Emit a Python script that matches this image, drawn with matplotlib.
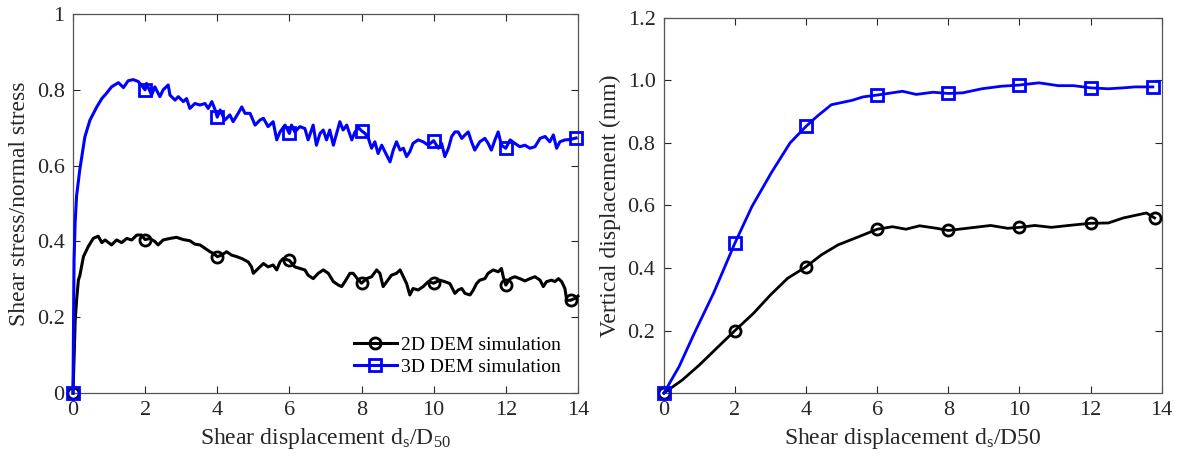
import matplotlib
matplotlib.use("Agg")
import matplotlib.pyplot as plt
import numpy as np

plt.rcParams['font.family'] = ['Liberation Serif', 'DejaVu Serif']
plt.rcParams['mathtext.fontset'] = 'custom'
plt.rcParams['mathtext.rm'] = 'Liberation Serif'
plt.rcParams['mathtext.it'] = 'Liberation Serif:italic'

# ---- left panel: shear stress / normal stress ----
bx2 = [0, 0.04, 0.06, 0.10, 0.15, 0.19, 0.29, 0.42, 0.56, 0.70, 0.80, 0.89, 1.07, 1.21, 1.35, 1.49,
       1.63, 1.77, 1.90, 2.0, 2.13, 2.27, 2.36, 2.50, 2.69, 2.87, 3.06, 3.24, 3.38, 3.52, 3.66, 3.80,
       3.90, 4.0, 4.12, 4.26, 4.40, 4.54, 4.68, 4.86, 4.95, 5.0, 5.14, 5.28, 5.41, 5.55, 5.65, 5.74,
       5.83, 6.0, 6.15, 6.29, 6.43, 6.52, 6.66, 6.80, 6.94, 7.08, 7.22, 7.36, 7.45, 7.54, 7.68, 7.77,
       7.90, 8.0, 8.14, 8.28, 8.42, 8.51, 8.60, 8.70, 8.83, 8.97, 9.07, 9.16, 9.25, 9.34, 9.43, 9.57,
       9.71, 9.85, 10.0, 10.17, 10.31, 10.45, 10.59, 10.68, 10.78, 10.87, 11.01, 11.10, 11.19, 11.28,
       11.42, 11.51, 11.65, 11.79, 11.88, 11.93, 12.0, 12.12, 12.25, 12.39, 12.53, 12.67, 12.81, 12.95,
       13.04, 13.13, 13.27, 13.36, 13.46, 13.55, 13.64, 13.69, 13.80, 13.92, 14.0]
by2 = [0, 0.12, 0.19, 0.245, 0.298, 0.31, 0.36, 0.386, 0.408, 0.414, 0.397, 0.404, 0.391, 0.404, 0.397, 0.408,
       0.404, 0.417, 0.417, 0.405, 0.408, 0.40, 0.391, 0.404, 0.408, 0.411, 0.405, 0.402, 0.393, 0.391, 0.382, 0.373,
       0.368, 0.36, 0.364, 0.373, 0.364, 0.36, 0.355, 0.346, 0.333, 0.316, 0.329, 0.342, 0.333, 0.338, 0.325, 0.346,
       0.355, 0.35, 0.333, 0.329, 0.325, 0.311, 0.302, 0.316, 0.325, 0.316, 0.294, 0.285, 0.281, 0.294, 0.316, 0.316,
       0.30, 0.29, 0.302, 0.307, 0.325, 0.316, 0.281, 0.294, 0.311, 0.316, 0.325, 0.307, 0.289, 0.259, 0.276, 0.272,
       0.281, 0.294, 0.29, 0.298, 0.294, 0.289, 0.263, 0.272, 0.276, 0.263, 0.259, 0.272, 0.289, 0.298,
       0.302, 0.316, 0.325, 0.320, 0.329, 0.307, 0.285, 0.302, 0.307, 0.302, 0.296, 0.302, 0.307, 0.298,
       0.281, 0.294, 0.298, 0.294, 0.302, 0.294, 0.276, 0.245, 0.245, 0.250, 0.256]
mk2 = [0, 2, 4, 6, 8, 10, 12, 13.8]

bx3 = [0, 0.03, 0.06, 0.10, 0.19, 0.33, 0.47, 0.66, 0.80, 0.93, 1.07, 1.26, 1.40, 1.53, 1.67, 1.81,
       1.90, 2.0, 2.04, 2.18, 2.27, 2.41, 2.50, 2.64, 2.69, 2.83, 2.92, 3.06, 3.15, 3.24, 3.38, 3.52,
       3.66, 3.75, 3.85, 3.95, 4.0, 4.08, 4.21, 4.35, 4.44, 4.58, 4.68, 4.77, 4.91, 5.05, 5.18, 5.28,
       5.41, 5.55, 5.65, 5.74, 5.88, 6.0, 6.06, 6.15, 6.29, 6.43, 6.52, 6.66, 6.75, 6.85, 6.94, 7.03,
       7.12, 7.22, 7.31, 7.40, 7.49, 7.59, 7.73, 7.82, 7.92, 8.0, 8.10, 8.19, 8.28, 8.37, 8.46, 8.56,
       8.65, 8.79, 8.88, 8.97, 9.07, 9.16, 9.25, 9.34, 9.43, 9.57, 9.71, 9.85, 10.0, 10.13, 10.22, 10.31,
       10.41, 10.50, 10.59, 10.68, 10.78, 10.87, 10.96, 11.05, 11.14, 11.28, 11.42, 11.51, 11.60, 11.70,
       11.79, 11.88, 12.0, 12.12, 12.25, 12.39, 12.53, 12.67, 12.81, 12.95, 13.09, 13.22, 13.32, 13.41,
       13.50, 13.64, 13.78, 13.95]
by3 = [0, 0.35, 0.45, 0.52, 0.59, 0.676, 0.72, 0.755, 0.777, 0.791, 0.808, 0.819, 0.806, 0.824, 0.827, 0.822,
       0.812, 0.80, 0.817, 0.786, 0.808, 0.782, 0.80, 0.813, 0.786, 0.773, 0.782, 0.769, 0.777, 0.751, 0.764, 0.760,
       0.764, 0.751, 0.769, 0.745, 0.728, 0.747, 0.720, 0.734, 0.716, 0.738, 0.755, 0.738, 0.738, 0.707, 0.720, 0.725,
       0.703, 0.716, 0.668, 0.689, 0.707, 0.685, 0.707, 0.689, 0.703, 0.698, 0.668, 0.707, 0.654, 0.685, 0.694, 0.668,
       0.694, 0.654, 0.685, 0.716, 0.694, 0.707, 0.668, 0.689, 0.700, 0.692, 0.685, 0.672, 0.646, 0.663, 0.632, 0.654,
       0.637, 0.610, 0.641, 0.663, 0.641, 0.646, 0.624, 0.637, 0.659, 0.668, 0.663, 0.654, 0.666, 0.646, 0.659, 0.624,
       0.646, 0.677, 0.689, 0.689, 0.672, 0.681, 0.689, 0.663, 0.641, 0.663, 0.672, 0.659, 0.641, 0.668,
       0.689, 0.654, 0.646, 0.668, 0.659, 0.650, 0.654, 0.646, 0.650, 0.672, 0.677, 0.663, 0.681, 0.646,
       0.663, 0.668, 0.669, 0.673]
mk3 = [0, 2, 4, 6, 8, 10, 12, 13.95]

# ---- right panel: vertical displacement (mm) ----
rx2 = [0, 0.52, 1.0, 1.48, 2.0, 2.52, 3.0, 3.48, 4.0, 4.43, 4.9, 5.48, 6.0, 6.43, 6.81, 7.19, 7.67, 8.0,
       8.52, 9.19, 9.67, 10.0, 10.43, 10.9, 11.38, 12.0, 12.5, 12.92, 13.57, 13.8]
ry2 = [0, 0.042, 0.09, 0.143, 0.2, 0.255, 0.314, 0.367, 0.404, 0.442, 0.474, 0.50, 0.524, 0.532, 0.524, 0.535, 0.527, 0.52,
       0.527, 0.536, 0.527, 0.53, 0.536, 0.53, 0.536, 0.543, 0.544, 0.56, 0.576, 0.56]
rmk2 = [0, 2, 4, 6, 8, 10, 12, 13.8]

rx3 = [0, 0.43, 0.86, 1.40, 2.0, 2.48, 3.02, 3.55, 4.0, 4.31, 4.71, 5.29, 5.60, 6.0, 6.71, 7.1, 7.57, 8.0,
       8.4, 8.94, 9.48, 10.0, 10.55, 11.09, 11.52, 12.0, 12.5, 12.92, 13.25, 13.75]
ry3 = [0, 0.085, 0.192, 0.32, 0.48, 0.597, 0.704, 0.80, 0.853, 0.885, 0.922, 0.936, 0.947, 0.953, 0.965, 0.955, 0.962, 0.958,
       0.96, 0.973, 0.981, 0.985, 0.992, 0.983, 0.983, 0.976, 0.973, 0.976, 0.979, 0.979]
rmk3 = [0, 2, 4, 6, 8, 10, 12, 13.75]

c_ax = '#262626'


def idx(x, marks):
    x = np.asarray(x)
    return [int(np.argmin(np.abs(x - m))) for m in marks]


def style(ax):
    ax.tick_params(direction='in', length=5, width=0.8, top=True, right=True,
                   labelsize=16, colors=c_ax, pad=6)
    for s in ax.spines.values():
        s.set_color('#555555')
        s.set_linewidth(0.9)


fig = plt.figure(figsize=(11.77, 4.68), dpi=100)
ax1 = fig.add_axes([0.062, 0.160, 0.429, 0.810])
ax2 = fig.add_axes([0.564, 0.160, 0.423, 0.802])

ax1.plot(bx2, by2, color='k', lw=2.2, marker='o', ms=8, mfc='none', mew=2,
         markevery=idx(bx2, mk2), label='2D DEM simulation', clip_on=False, zorder=3)
ax1.plot(bx3, by3, color='#0000ff', lw=2.2, marker='s', ms=8, mfc='none', mew=2,
         markevery=idx(bx3, mk3), label='3D DEM simulation', clip_on=False, zorder=3)
ax1.set_xlim(0, 14)
ax1.set_ylim(0, 1)
ax1.set_xticks(range(0, 15, 2))
ax1.set_yticks([0, 0.2, 0.4, 0.6, 0.8, 1])
ax1.set_yticklabels(['0', '0.2', '0.4', '0.6', '0.8', '1'])
ax1.set_xlabel(r'Shear displacement d$_{\mathregular{s}}$/D$_{\mathregular{50}}$', fontsize=17, color=c_ax, labelpad=4)
ax1.set_ylabel('Shear stress/normal stress', fontsize=17, color=c_ax, labelpad=5)
ax1.legend(loc='lower right', bbox_to_anchor=(1.0, 0.0), frameon=False, fontsize=14,
           handlelength=2.2, handletextpad=0.2, labelspacing=0.2, borderaxespad=0.5)
style(ax1)

ax2.plot(rx2, ry2, color='k', lw=2, marker='o', ms=8, mfc='none', mew=2,
         markevery=idx(rx2, rmk2), clip_on=False, zorder=3)
ax2.plot(rx3, ry3, color='#0000ff', lw=2, marker='s', ms=8, mfc='none', mew=2,
         markevery=idx(rx3, rmk3), clip_on=False, zorder=3)
ax2.set_xlim(0, 14)
ax2.set_ylim(0, 1.2)
ax2.set_xticks(range(0, 15, 2))
ax2.set_yticks([0.2, 0.4, 0.6, 0.8, 1.0, 1.2])
ax2.set_yticklabels(['0.2', '0.4', '0.6', '0.8', '1.0', '1.2'])
ax2.set_xlabel(r'Shear displacement d$_{\mathregular{s}}$/D50', fontsize=17, color=c_ax, labelpad=4)
ax2.set_ylabel('Vertical displacement (mm)', fontsize=17, color=c_ax, labelpad=5)
style(ax2)

fig.savefig('out.png', dpi=100)
